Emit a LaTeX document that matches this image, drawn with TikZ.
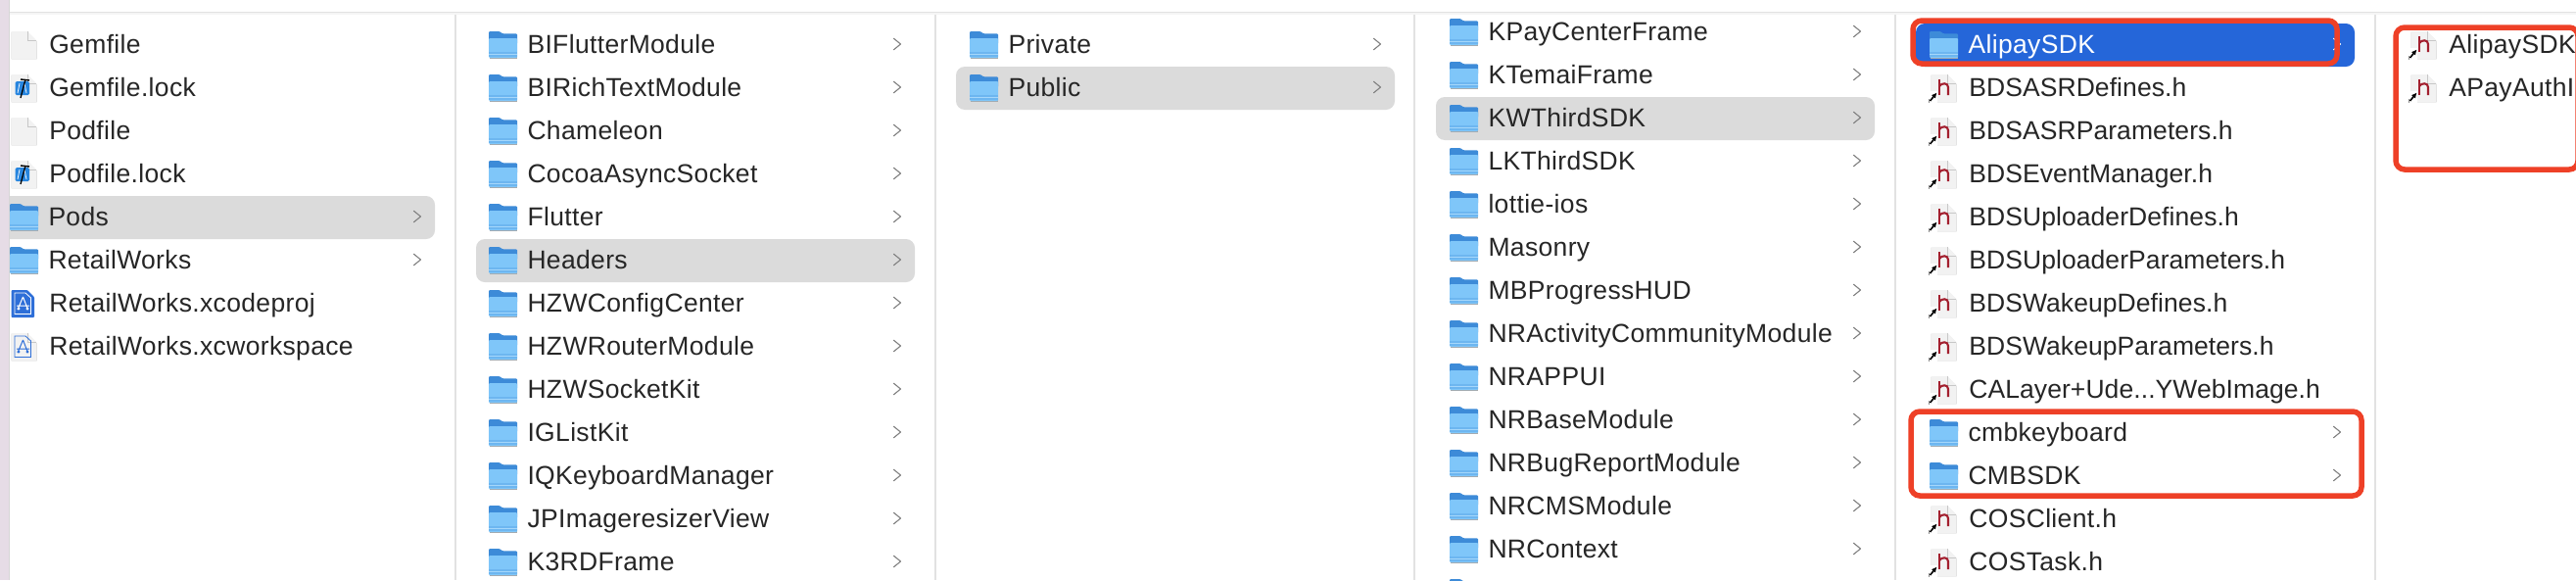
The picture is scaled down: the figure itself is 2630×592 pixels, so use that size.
\documentclass[tikz,border=0pt]{standalone}
\usepackage{fontspec}
\setmainfont[LetterSpace=1.3]{Liberation Sans}
\usetikzlibrary{arrows.meta}
\definecolor{txt}{HTML}{262626}
\definecolor{sepc}{HTML}{E2E2E2}
\definecolor{rowsel}{HTML}{DBDBDB}
\definecolor{blue1}{HTML}{2566D9}
\definecolor{redm}{HTML}{EE4027}
\definecolor{fbody}{HTML}{7FC6F9}
\definecolor{ftab}{HTML}{3D8BD8}
\definecolor{fband}{HTML}{6DB6F0}
\definecolor{fshadow}{HTML}{A8A8A8}
\definecolor{chev}{HTML}{808080}
\definecolor{hred}{HTML}{A3202F}
\definecolor{xblue}{HTML}{2E6FD8}
\definecolor{edgec}{HTML}{E6DCE6}
\newcommand{\tighttext}{\addfontfeature{LetterSpace=0.3}}
\tikzset{
  x=1pt,y=-1pt,
  label/.style={anchor=base west,inner sep=0pt,outer sep=0pt,font=\fontsize{26.5}{30}\selectfont,text=txt},
  sep/.style={draw=sepc,line width=1.4pt},
  marker/.style={draw=redm,line width=5.5pt,rounded corners=9pt},
  selrow/.style={fill=rowsel,rounded corners=9pt},
  pics/folder/.style={code={
    \fill[fshadow] (0.5,-9) rectangle (28.5,15);
    \fill[ftab,rounded corners=1pt] (0,-13) -- (11,-13) -- (14,-10.7) -- (29,-10.7) -- (29,0) -- (0,0) -- cycle;
    \fill[fbody,rounded corners=1pt] (0,-6) -- (29,-6) -- (29,14) -- (0,14) -- cycle;
    \fill[fband] (0,7.5) rectangle (29,13);
    \draw[fbody!70!white,line width=.6pt] (0,10) -- (29,10);
  }},
  pics/sheet/.style={code={
    \fill[black!18] (0.5,-12.5) -- (17,-12.5) -- (26.5,-3) -- (26.5,15.4) -- (0.5,15.4) -- cycle;
    \fill[white!95!black] (0.8,-13) -- (17,-13) -- (26,-4) -- (26,14.8) -- (0.8,14.8) -- cycle;
    \draw[black!22,line width=.5pt] (17,-13) -- (17,-4) -- (26,-4);
  }},
  pics/hammerfile/.style={code={
    \pic {sheet};
    \fill[xblue!85!cyan,rounded corners=1.5pt] (4.5,-6) rectangle (19,8);
    \draw[white,line width=.7pt] (9,-4) -- (7,6) (14,-4) -- (16,6);
    \draw[black,line width=1.3pt] (10,11) -- (15,-8);
    \draw[black,line width=1.4pt] (10,-8) -- (19,-7);
  }},
  pics/appfile/.style={code={
    \fill[xblue,rounded corners=1pt] (0.5,-13) -- (17,-13) -- (24,-6) -- (24,15) -- (0.5,15) -- cycle;
    \draw[white,line width=.8pt] (4,-10) -- (15,-10) -- (20.5,-5) -- (20.5,11.5) -- (4,11.5) -- cycle;
    \draw[white,line width=1pt] (12.5,-6) -- (7,7) (12.5,-6) -- (17.5,7) (6,3) -- (19,3);
    \fill[white] (8,6) circle (1.6) (17,6) circle (1.6);
  }},
  pics/wsfile/.style={code={
    \pic {sheet};
    \draw[xblue,line width=.8pt] (4,-10) -- (15,-10) -- (20.5,-5) -- (20.5,11.5) -- (4,11.5) -- cycle;
    \draw[xblue,line width=1pt] (12.5,-6) -- (7,7) (12.5,-6) -- (17.5,7) (6,3) -- (19,3);
    \fill[xblue] (8,6) circle (1.6) (17,6) circle (1.6);
  }},
  pics/hfile/.style={code={
    \pic {sheet};
    \fill[hred] (8,-8) rectangle (10.2,8);
    \draw[hred,line width=2.1pt] (9,-1) .. controls (11,-4.5) and (18,-5) .. (18,0) -- (18,8);
    \fill[white] (-2,3.5) rectangle (7,15.5);
    \draw[black!45,line width=.5pt] (-2,15.5) -- (-2,12);
    \draw[black,line width=1.6pt,-{Latex[length=5.5pt,width=5.5pt]}] (-0.5,14) -- (6.5,5.5);
  }},
  pics/arrowmark/.style={code={
    \draw[#1,line width=1.1pt,line cap=round,line join=round] (-3.5,-5.7) -- (3.5,0) -- (-3.5,5.7);
  }},
  pics/arrowmark/.default=chev,
}
\newcommand{\folderrow}[5]{% name, iconx, chevx, y centre, text
  \pic at (#2,#4) {folder};
  \node[label] (#1) at (#2+39.5,#4+9) {#5};
  \pic at (#3,#4) {arrowmark};
}
\newcommand{\filerow}[5]{% name, pic, iconx, y, text
  \pic at (#3,#4) {#2};
  \node[label] (#1) at (#3+39.3,#4+9) {#5};
}
\begin{document}
\begin{tikzpicture}
\useasboundingbox (0,0) rectangle (2630,592);
\clip (0,0) rectangle (2630,592);
\fill[white] (0,0) rectangle (2630,592);
% separators
\foreach \sx in {465,955,1444,1935,2425} \draw[sep] (\sx,13) -- (\sx,592);
% top bar
\fill[black!4] (10,13) rectangle (2630,15);
\draw[sepc,line width=1.3pt] (10,12.7) -- (2630,12.7);
% selections
\fill[selrow] (-10,200) rectangle (444,244);
\fill[selrow] (486,244) rectangle (934,288);
\fill[selrow] (976,68) rectangle (1424,112);
\fill[selrow] (1466,99) rectangle (1914,143);
\fill[blue1,rounded corners=9pt] (1956,24) rectangle (2404,68);
% column 1
\filerow{a0}{sheet}{11}{45}{Gemfile}
\filerow{a1}{hammerfile}{11}{89}{Gemfile.lock}
\filerow{a2}{sheet}{11}{133}{Podfile}
\filerow{a3}{hammerfile}{11}{177}{Podfile.lock}
\folderrow{a4}{10}{426}{221}{Pods}
\folderrow{a5}{10}{426}{265}{RetailWorks}
\filerow{a6}{appfile}{11}{309}{RetailWorks.xcodeproj}
\filerow{a7}{wsfile}{11}{353}{RetailWorks.xcworkspace}
% window edge
\fill[edgec] (0,0) rectangle (9,592);
\fill[black!16] (9,0) rectangle (10,592);
% column 2
\folderrow{b0}{499}{916}{45}{BIFlutterModule}
\folderrow{b1}{499}{916}{89}{BIRichTextModule}
\folderrow{b2}{499}{916}{133}{Chameleon}
\folderrow{b3}{499}{916}{177}{CocoaAsyncSocket}
\folderrow{b4}{499}{916}{221}{Flutter}
\folderrow{b5}{499}{916}{265}{Headers}
\folderrow{b6}{499}{916}{309}{HZWConfigCenter}
\folderrow{b7}{499}{916}{353}{HZWRouterModule}
\folderrow{b8}{499}{916}{397}{HZWSocketKit}
\folderrow{b9}{499}{916}{441}{IGListKit}
\folderrow{b10}{499}{916}{485}{IQKeyboardManager}
\folderrow{b11}{499}{916}{529}{JPImageresizerView}
\folderrow{b12}{499}{916}{573}{K3RDFrame}
% column 3
\folderrow{c0}{990}{1406}{45}{Private}
\folderrow{c1}{990}{1406}{89}{Public}
% column 4
\folderrow{d0}{1480}{1896}{32}{KPayCenterFrame}
\folderrow{d1}{1480}{1896}{76}{KTemaiFrame}
\folderrow{d2}{1480}{1896}{120}{KWThirdSDK}
\folderrow{d3}{1480}{1896}{164}{LKThirdSDK}
\folderrow{d4}{1480}{1896}{208}{lottie-ios}
\folderrow{d5}{1480}{1896}{252}{Masonry}
\folderrow{d6}{1480}{1896}{296}{MBProgressHUD}
\folderrow{d7}{1480}{1896}{340}{NRActivityCommunityModule}
\folderrow{d8}{1480}{1896}{384}{NRAPPUI}
\folderrow{d9}{1480}{1896}{428}{NRBaseModule}
\folderrow{d10}{1480}{1896}{472}{NRBugReportModule}
\folderrow{d11}{1480}{1896}{516}{NRCMSModule}
\folderrow{d12}{1480}{1896}{560}{NRContext}
\pic at (1480,604) {folder};
% column 5
\pic at (1970,45) {folder};
\node[label,text=white] (e0) at (2009.5,54) {AlipaySDK};
\pic at (2386,45) {arrowmark=white};
\filerow{e1}{hfile}{1971}{89}{\tighttext BDSASRDefines.h}
\filerow{e2}{hfile}{1971}{133}{\tighttext BDSASRParameters.h}
\filerow{e3}{hfile}{1971}{177}{\tighttext BDSEventManager.h}
\filerow{e4}{hfile}{1971}{221}{\tighttext BDSUploaderDefines.h}
\filerow{e5}{hfile}{1971}{265}{\tighttext BDSUploaderParameters.h}
\filerow{e6}{hfile}{1971}{309}{\tighttext BDSWakeupDefines.h}
\filerow{e7}{hfile}{1971}{353}{\tighttext BDSWakeupParameters.h}
\filerow{e8}{hfile}{1971}{397}{\tighttext CALayer+Ude...YWebImage.h}
\folderrow{e9}{1970}{2386}{441}{cmbkeyboard}
\folderrow{e10}{1970}{2386}{485}{CMBSDK}
\filerow{e11}{hfile}{1971}{529}{COSClient.h}
\filerow{e12}{hfile}{1971}{573}{COSTask.h}
% column 6
\filerow{f0}{hfile}{2461}{45}{AlipaySDK.}
\filerow{f1}{hfile}{2461}{89}{APayAuthIn}
% red markers
\draw[marker] (1953,21) rectangle (2386,65);
\draw[marker] (1951,420) rectangle (2411,506);
\draw[marker] (2446,28) rectangle (2632,173);
\end{tikzpicture}
\end{document}
